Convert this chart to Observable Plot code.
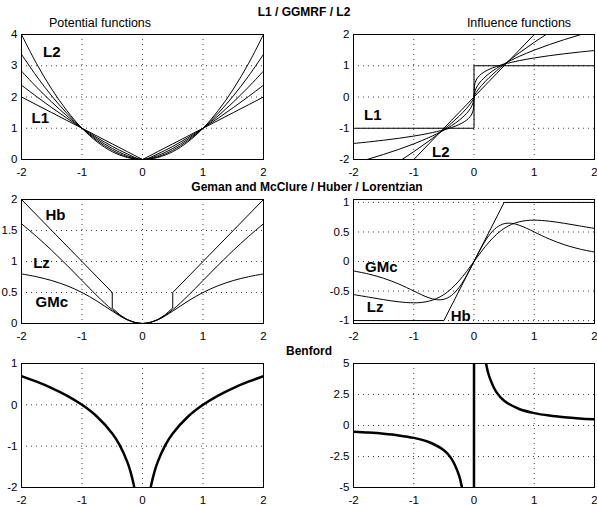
<!DOCTYPE html>
<html>
<head>
<meta charset="utf-8">
<script src="https://cdn.jsdelivr.net/npm/d3@7"></script>
<script src="https://cdn.jsdelivr.net/npm/@observablehq/plot@0.6"></script>
<style>
  html, body { margin: 0; padding: 0; background: #fff; }
  #fig { position: relative; width: 597px; height: 506px; overflow: hidden; background: #fff;
         font-family: "Liberation Sans", Arial, Helvetica, sans-serif; }
  #fig svg { position: absolute; }
</style>
</head>
<body>
<div id="fig"></div>
<script>
// ---------------- data ----------------
const xTicks = [-2, -1, 0, 1, 2];

// shared x grid for potentials
const xs = [-2,-1.75,-1.5,-1.25,-1,-0.75,-0.5,-0.25,0,0.25,0.5,0.75,1,1.25,1.5,1.75,2];

// Row 1: L1 / GGMRF / L2 potentials (p = 1, 1.25, 1.5, 1.75, 2)
const potP100 = [2,1.75,1.5,1.25,1,0.75,0.5,0.25,0,0.25,0.5,0.75,1,1.25,1.5,1.75,2];
const potP125 = [2.378,2.013,1.660,1.322,1,0.698,0.420,0.177,0,0.177,0.420,0.698,1,1.322,1.660,2.013,2.378];
const potP150 = [2.828,2.315,1.837,1.398,1,0.650,0.354,0.125,0,0.125,0.354,0.650,1,1.398,1.837,2.315,2.828];
const potP175 = [3.364,2.663,2.033,1.478,1,0.604,0.297,0.088,0,0.088,0.297,0.604,1,1.478,2.033,2.663,3.364];
const potP200 = [4,3.063,2.25,1.563,1,0.563,0.25,0.063,0,0.063,0.25,0.563,1,1.563,2.25,3.063,4];

// Row 1: influence functions
const xi = [-2,-1.75,-1.5,-1.25,-1,-0.75,-0.5,-0.375,-0.25,-0.125,-0.0625,-0.0156,0,0.0156,0.0625,0.125,0.25,0.375,0.5,0.75,1,1.25,1.5,1.75,2];
const infP125 = [-1.487,-1.438,-1.383,-1.322,-1.25,-1.163,-1.051,-0.978,-0.884,-0.743,-0.625,-0.442,0,0.442,0.625,0.743,0.884,0.978,1.051,1.163,1.25,1.322,1.383,1.438,1.487];
const infP150 = [-2.121,-1.984,-1.837,-1.677,-1.5,-1.299,-1.061,-0.919,-0.75,-0.530,-0.375,-0.188,0,0.188,0.375,0.530,0.75,0.919,1.061,1.299,1.5,1.677,1.837,1.984,2.121];
const infP175 = [-2.943,-2.663,-2.372,-2.069,-1.75,-1.410,-1.041,-0.839,-0.619,-0.368,-0.219,-0.077,0,0.077,0.219,0.368,0.619,0.839,1.041,1.410,1.75,2.069,2.372,2.663,2.943];
const infP200 = [-4,-3.5,-3,-2.5,-2,-1.5,-1,-0.75,-0.5,-0.25,-0.125,-0.031,0,0.031,0.125,0.25,0.5,0.75,1,1.5,2,2.5,3,3.5,4];
const infL1X = [-2,0,0,2];
const infL1Y = [-1,-1,1,1];

// Row 2: Geman-McClure / Huber / Lorentzian potentials
const potGM = [0.8,0.7538,0.6923,0.6098,0.5,0.36,0.2,0.0588,0,0.0588,0.2,0.36,0.5,0.6098,0.6923,0.7538,0.8];
const potLZ = [1.6094,1.4018,1.1787,0.9410,0.6931,0.4463,0.2231,0.0606,0,0.0606,0.2231,0.4463,0.6931,0.9410,1.1787,1.4018,1.6094];
const potHBX = [-2,-0.5,-0.5,-0.375,-0.25,-0.125,0,0.125,0.25,0.375,0.5,0.5,2];
const potHBY = [2,0.5,0.25,0.1406,0.0625,0.0156,0,0.0156,0.0625,0.1406,0.25,0.5,2];

// Row 2: influence functions
const xm = [-2,-1.75,-1.5,-1.25,-1,-0.875,-0.75,-0.625,-0.5,-0.375,-0.25,-0.125,0,0.125,0.25,0.375,0.5,0.625,0.75,0.875,1,1.25,1.5,1.75,2];
const infGM = [-0.16,-0.2121,-0.284,-0.3807,-0.5,-0.5614,-0.6144,-0.6464,-0.64,-0.5765,-0.4429,-0.2424,0,0.2424,0.4429,0.5765,0.64,0.6464,0.6144,0.5614,0.5,0.3807,0.284,0.2121,0.16];
const infLZ = [-0.56,-0.6031,-0.6462,-0.6829,-0.7,-0.6938,-0.672,-0.6292,-0.56,-0.4603,-0.3294,-0.1723,0,0.1723,0.3294,0.4603,0.56,0.6292,0.672,0.6938,0.7,0.6829,0.6462,0.6031,0.56];
const infHBX = [-2,-0.5,0.5,2];
const infHBY = [-1,-1,1,1];

// Row 3: Benford
const xb = [-2,-1.75,-1.5,-1.25,-1,-0.75,-0.5,-0.375,-0.25,-0.2,-0.15,-0.125,-0.1,0,0.1,0.125,0.15,0.2,0.25,0.375,0.5,0.75,1,1.25,1.5,1.75,2];
const potBF = [0.6931,0.5596,0.4055,0.2231,0,-0.2877,-0.6931,-0.9808,-1.3863,-1.6094,-1.8971,-2.0794,-2.3026,null,-2.3026,-2.0794,-1.8971,-1.6094,-1.3863,-0.9808,-0.6931,-0.2877,0,0.2231,0.4055,0.5596,0.6931];
const infBF = [-0.5,-0.5714,-0.6667,-0.8,-1,-1.3333,-2,-2.6667,-4,-5,-6.6667,-8,-10,null,10,8,6.6667,5,4,2.6667,2,1.3333,1,0.8,0.6667,0.5714,0.5];
const infBFJumpX = [-0.01, 0.01];
const infBFJumpY = [-100, 100];

// curve labels
const labTL = [{x:-1.50, y:3.42, t:"L2"}, {x:-1.69, y:1.31, t:"L1"}];
const labTR = [{x:-1.68, y:-0.59, t:"L1"}, {x:-0.55, y:-1.78, t:"L2"}];
const labML = [{x:-1.44, y:1.74, t:"Hb"}, {x:-1.67, y:0.98, t:"Lz"}, {x:-1.50, y:0.34, t:"GMc"}];
const labMR = [{x:-1.54, y:-0.09, t:"GMc"}, {x:-1.64, y:-0.78, t:"Lz"}, {x:-0.22, y:-0.92, t:"Hb"}];

// ---------------- drawing ----------------
const FONT = '"Liberation Sans", Arial, Helvetica, sans-serif';
const rows = (xa, ya) => xa.map((x, i) => ({x, y: ya[i]}));
const fmt = d => String(d);

function line(xa, ya, opts = {}) {
  return Plot.line(rows(xa, ya), {x: "x", y: "y", stroke: "black", strokeWidth: 1, clip: true,
    curve: "catmull-rom", ...opts});
}
function labels(arr) {
  return Plot.text(arr, {x: "x", y: "y", text: "t", fontWeight: "bold", fontSize: 15, fill: "black"});
}

const fig = document.getElementById("fig");

function panel({left, top, w, h, yDomain, yTicks, marks, pad = 8}) {
  const mL = 40, mR = 12, mT = 10, mB = 24;
  const inner = yTicks.filter(v => v > Math.min(...yDomain) && v < Math.max(...yDomain));
  const svg = Plot.plot({
    width: w + mL + mR, height: h + mT + mB,
    marginLeft: mL, marginRight: mR, marginTop: mT, marginBottom: mB,
    x: {domain: [-2, 2]},
    y: {domain: yDomain},
    style: {background: "transparent", fontSize: "11px", fontFamily: FONT, color: "black", overflow: "visible"},
    marks: [
      Plot.gridX([-1, 0, 1], {stroke: "#000", strokeOpacity: 0.75, strokeDasharray: "1,4"}),
      Plot.gridY(inner, {stroke: "#000", strokeOpacity: 0.75, strokeDasharray: "1,4"}),
      ...marks,
      Plot.frame({stroke: "black", strokeWidth: 1}),
      Plot.axisX(xTicks, {tickSize: 0, tickPadding: pad, tickFormat: fmt, label: null, fontSize: 11.5}),
      Plot.axisY(yTicks, {tickSize: 0, tickPadding: 4, tickFormat: fmt, label: null, fontSize: 11.5})
    ]
  });
  svg.style.left = (left - mL) + "px";
  svg.style.top = (top - mT) + "px";
  fig.appendChild(svg);
}

// Row 1
panel({left: 21, top: 34, w: 242, h: 125, yDomain: [0, 4], yTicks: [0,1,2,3,4], marks: [
  line(xs, potP100, {curve: "linear"}),
  line(xs, potP125), line(xs, potP150), line(xs, potP175), line(xs, potP200),
  labels(labTL)
]});
panel({left: 353, top: 34, w: 241, h: 125, yDomain: [-2, 2], yTicks: [-2,-1,0,1,2], marks: [
  line(infL1X, infL1Y, {curve: "linear"}),
  line(xi, infP125), line(xi, infP150), line(xi, infP175), line(xi, infP200, {curve: "linear"}),
  labels(labTR)
]});
// Row 2
panel({left: 21, top: 199, w: 242, h: 124, yDomain: [0, 2], yTicks: [0,0.5,1,1.5,2], marks: [
  line(potHBX, potHBY, {curve: "linear"}),
  line(xs, potLZ), line(xs, potGM),
  labels(labML)
]});
panel({left: 353, top: 199, w: 241, h: 124, yDomain: [-1.05, 1.05], yTicks: [-1,-0.5,0,0.5,1], marks: [
  line(infHBX, infHBY, {curve: "linear"}),
  line(xm, infLZ), line(xm, infGM),
  labels(labMR)
]});
// Row 3
panel({left: 21, top: 363, w: 242, h: 124, yDomain: [-2, 1], yTicks: [-2,-1,0,1], marks: [
  line(xb, potBF, {strokeWidth: 2.5})
]});
panel({left: 353, top: 363, w: 241, h: 124, yDomain: [-5, 5], yTicks: [-5,-2.5,0,2.5,5], marks: [
  line(xb, infBF, {strokeWidth: 2.5}),
  line(infBFJumpX, infBFJumpY, {strokeWidth: 2.5, curve: "linear"})
]});

// titles
const ns = "http://www.w3.org/2000/svg";
const over = document.createElementNS(ns, "svg");
over.setAttribute("width", 597); over.setAttribute("height", 506);
over.style.left = "0px"; over.style.top = "0px"; over.style.pointerEvents = "none";
const titles = [
  {t: "L1 / GGMRF / L2", x: 304, y: 16, b: true},
  {t: "Potential functions", x: 100, y: 27, b: false},
  {t: "Influence functions", x: 519, y: 27, b: false},
  {t: "Geman and McClure / Huber / Lorentzian", x: 307, y: 191, b: true},
  {t: "Benford", x: 309, y: 355, b: true}
];
for (const d of titles) {
  const el = document.createElementNS(ns, "text");
  el.setAttribute("x", d.x); el.setAttribute("y", d.y);
  el.setAttribute("text-anchor", "middle");
  el.setAttribute("font-family", FONT);
  el.setAttribute("font-size", d.b ? 12 : 12.5);
  if (d.b) el.setAttribute("font-weight", "bold");
  el.textContent = d.t;
  over.appendChild(el);
}
fig.appendChild(over);
</script>
</body>
</html>
